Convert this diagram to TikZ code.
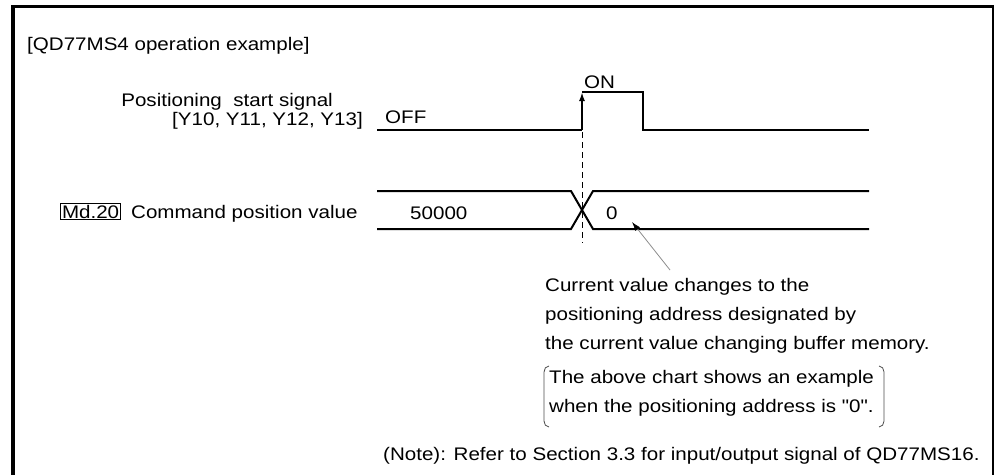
\documentclass[tikz,border=0pt]{standalone}
\usepackage{fontspec}
\newfontfamily\diagfont{Liberation Sans}[FakeStretch=1.13]
\usetikzlibrary{arrows.meta}
\begin{document}
\begin{tikzpicture}[x=1pt,y=-1pt,
  font=\diagfont\fontsize{18.2}{29}\selectfont,
  sig/.style={line width=2pt},
  txt/.style={inner sep=0pt, anchor=base west},
  txtr/.style={inner sep=0pt, anchor=base east},
  brk/.style={line width=0.8pt, draw=black!70},
  tipstyle/.style={-{Latex[length=9pt,width=6pt]}}]
\useasboundingbox (0,0) rectangle (995,475);
% frame
\draw[line width=4pt] (13,5) -- (13,475);
\draw[line width=3pt] (11,6.5) -- (994,6.5);
\draw[line width=1.5pt] (993,5) -- (993,475);
% texts
\node[txt] (title) at (27,50) {[QD77MS4 operation example]};
\node[txtr] (pss) at (333,106) {Positioning\ \ start signal};
\node[txtr] (ysig) at (363,125) {[Y10, Y11, Y12, Y13]};
\node[txt] (off) at (385,123) {OFF};
\node[txt] (on) at (584,88) {ON};
\node[txt, draw, line width=1pt, inner sep=1.5pt] (md) at (60,218) {Md.20};
\node[txt] (cpv) at (131,218) {Command position value};
\node[txt] (v1) at (410,219) {50000};
\node[txt] (v2) at (606,219) {0};
\node[txt] (c1) at (545,291) {Current value changes to the};
\node[txt] (c2) at (545,320) {positioning address designated by};
\node[txt] (c3) at (545,349) {the current value changing buffer memory.};
\node[txt] (b1) at (549,383) {The above chart shows an example};
\node[txt] (b2) at (549,412) {when the positioning address is "0".};
\node[txt] (note) at (383,460) {(Note): Refer to Section 3.3 for input/output signal of QD77MS16.};
% start signal
\coordinate (s0) at (377,130);
\coordinate (s1) at (582,130);
\coordinate (s2) at (582,92);
\coordinate (s3) at (643,92);
\coordinate (s4) at (643,130);
\coordinate (s5) at (869,130);
\draw[sig] (s0) -- (s1);
\draw[sig, tipstyle] (s1) -- (s2);
\draw[sig] (s2) -- (s3) -- (s4) -- (s5);
% dashed marker
\coordinate (d0) at (582,132);
\coordinate (d1) at (582,243);
\draw[line width=1pt, dash pattern=on 6pt off 4pt] (d0) -- (d1);
% command position value
\coordinate (t0) at (377,191);
\coordinate (t1) at (571,191);
\coordinate (t2) at (593,191);
\coordinate (t3) at (869,191);
\coordinate (u0) at (377,229);
\coordinate (u1) at (571,229);
\coordinate (u2) at (593,229);
\coordinate (u3) at (869,229);
\draw[sig] (t0) -- (t1) -- (u2) -- (u3);
\draw[sig] (u0) -- (u1) -- (t2) -- (t3);
% leader
\coordinate (l0) at (670,270);
\coordinate (l1) at (632,222);
\draw[line width=0.8pt, draw=black!45, -{Latex[black,length=9pt,width=6pt]}] (l0) -- (l1);
% brackets
\coordinate (bl) at (544,366);
\coordinate (br) at (884,366);
\draw[brk] ([xshift=5pt]bl) to[out=180,in=90] ([yshift=-6pt]bl) -- ([yshift=-55pt]bl) to[out=-90,in=180] ([xshift=5pt,yshift=-61pt]bl);
\draw[brk] ([xshift=-5pt]br) to[out=0,in=90] ([yshift=-6pt]br) -- ([yshift=-55pt]br) to[out=-90,in=0] ([xshift=-5pt,yshift=-61pt]br);
\end{tikzpicture}
\end{document}
